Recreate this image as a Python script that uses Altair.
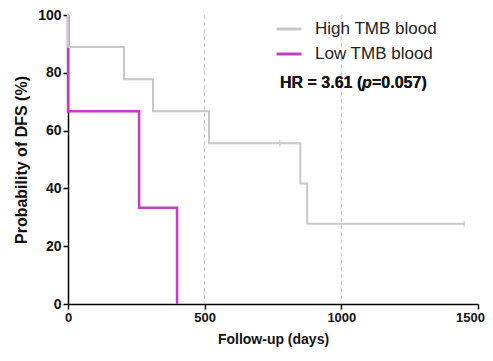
import altair as alt
import pandas as pd

# Kaplan-Meier steps
high_days = [0, 0, 205, 311, 516, 850, 875, 1450]
high_surv = [100, 88.9, 77.8, 66.7, 55.6, 41.7, 27.8, 27.8]
low_days = [0, 0, 260, 399]
low_surv = [100, 66.7, 33.3, 0]
censor_days = [775, 1450]
censor_surv = [55.6, 27.8]
grid_days = [500, 1000]
groups = ["High TMB blood", "Low TMB blood"]
colors = ["#c8c8c8", "#c040c0"]

df = pd.DataFrame(
    {"days": low_days + high_days,
     "surv": low_surv + high_surv,
     "group": [groups[1]] * len(low_days) + [groups[0]] * len(high_days),
     "ord": list(range(len(low_days))) + list(range(len(high_days)))}
)
cens = pd.DataFrame({"days": censor_days, "surv": censor_surv, "group": groups[0]})
grid = pd.DataFrame({"days": grid_days})

FONT = "Liberation Sans"
xscale = alt.Scale(domain=[0, 1500], nice=False, zero=True)
yscale = alt.Scale(domain=[0, 100], nice=False)
cscale = alt.Scale(domain=groups, range=colors)

rules = alt.Chart(grid).mark_rule(color="#c4c4c4", strokeDash=[4, 3], strokeWidth=1).encode(
    x=alt.X("days:Q", scale=xscale)
)

def km(group, width):
    return alt.Chart(df).transform_filter(alt.datum.group == group).mark_line(
        interpolate="step-after", strokeWidth=width
    ).encode(
        x=alt.X("days:Q", scale=xscale,
                axis=alt.Axis(values=[0, 500, 1000, 1500], format="d", title="Follow-up (days)",
                              labelOffset={"condition": {"test": "datum.value == 1500", "value": -8},
                                           "value": 0})),
        y=alt.Y("surv:Q", scale=yscale,
                axis=alt.Axis(values=[0, 20, 40, 60, 80, 100], format="d",
                              title="Probability of DFS (%)")),
        color=alt.Color("group:N", scale=cscale,
                        legend=alt.Legend(title=None, orient="none", legendX=207, legendY=0,
                                          symbolType="stroke", symbolSize=625,
                                          symbolStrokeWidth=3, labelFontSize=17,
                                          labelFont=FONT, labelColor="#222",
                                          labelOffset=12, rowPadding=3)),
        order="ord:Q",
    )

low_line = km(groups[1], 2.5)
high_line = km(groups[0], 2)

ticks = alt.Chart(cens).mark_tick(orient="vertical", size=6, thickness=1.5, color="#c8c8c8").encode(
    x=alt.X("days:Q", scale=xscale), y=alt.Y("surv:Q", scale=yscale)
)

hr1 = alt.Chart(grid).mark_text(text="HR = 3.61 (", align="left", baseline="middle",
                                fontSize=16, fontWeight="bold", font=FONT, color="#111").encode(
    x=alt.value(212), y=alt.value(68))
hr2 = alt.Chart(grid).mark_text(text="p", align="center", baseline="middle", fontStyle="italic",
                                fontSize=16, fontWeight="bold", font=FONT, color="#111").encode(
    x=alt.value(299), y=alt.value(68))
hr3 = alt.Chart(grid).mark_text(text="=0.057)", align="left", baseline="middle",
                                fontSize=16, fontWeight="bold", font=FONT, color="#111").encode(
    x=alt.value(304), y=alt.value(68))

chart = alt.layer(rules, low_line, high_line, ticks, hr1, hr2, hr3).properties(
    width=410, height=289,
    padding={"left": 60, "top": 7, "right": 7, "bottom": 49},
    autosize="none",
).configure_view(stroke=None).configure_axis(
    domainColor="#000", domainWidth=1.5, tickColor="#000", tickWidth=1.5, tickSize=5,
    grid=False, labelFont=FONT, titleFont=FONT, labelFontWeight="bold",
    titleFontWeight="bold", labelColor="#111", titleColor="#111",
).configure_axisX(labelFontSize=13, titleFontSize=14, labelPadding=2, titlePadding=8, labelFlush=False
).configure_axisY(labelFontSize=14, titleFontSize=16, labelPadding=2, titlePadding=8)

chart.save("out.html", embed_options={"renderer": "svg", "actions": False})
